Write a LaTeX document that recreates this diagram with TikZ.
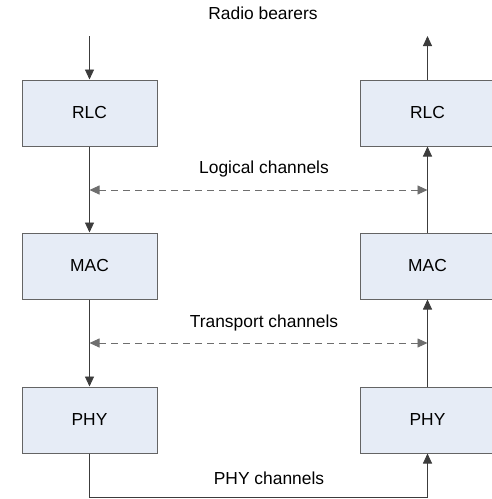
\documentclass[tikz,border=0pt]{standalone}
\usepackage{fontspec}
\setmainfont{Liberation Sans}
\usetikzlibrary{arrows.meta}
\definecolor{boxfill}{RGB}{230,236,246}
\definecolor{boxline}{RGB}{100,100,100}
\definecolor{lineclr}{RGB}{60,60,60}
\definecolor{dashclr}{RGB}{110,110,110}
\begin{document}
\begin{tikzpicture}[x=1pt,y=-1pt,
  layerbox/.style={draw=boxline,fill=boxfill,line width=1pt,minimum width=135pt,minimum height=66pt,inner sep=0pt,font=\fontsize{17.4}{20}\selectfont},
  lbl/.style={font=\fontsize{17.4}{20}\selectfont,inner sep=0pt,anchor=base},
  flow/.style={draw=lineclr,line width=0.9pt,-{Triangle[length=10pt,width=9pt]}},
  dflow/.style={draw=dashclr,line width=0.9pt,dash pattern=on 7pt off 5pt,{Triangle[length=10pt,width=9pt]}-{Triangle[length=10pt,width=9pt]}}
]
\useasboundingbox (0,0) rectangle (492,499);
\node[layerbox] (rlcl) at (89.5,113) {RLC};
\node[layerbox] (macl) at (89.5,266) {MAC};
\node[layerbox] (phyl) at (89.5,420) {PHY};
\node[layerbox] (rlcr) at (427.5,113) {RLC};
\node[layerbox] (macr) at (427.5,266) {MAC};
\node[layerbox] (phyr) at (427.5,420) {PHY};
\coordinate (inl) at (89.5,36);
\coordinate (outr) at (427.5,36);
\coordinate (lgl) at (89.5,190);
\coordinate (lgr) at (427.5,190);
\coordinate (trl) at (89.5,343);
\coordinate (trr) at (427.5,343);
\node[lbl] (rb) at (263,19.5) {Radio bearers};
\node[lbl] (lc) at (264,173) {Logical channels};
\node[lbl] (tc) at (264,327) {Transport channels};
\node[lbl] (pc) at (269,484) {PHY channels};
\draw[flow] (inl) -- (rlcl.north);
\draw[flow] (rlcl.south) -- (macl.north);
\draw[flow] (macl.south) -- (phyl.north);
\draw[flow] (phyl.south) -- (89.5,497) -- (427.5,497) -- (phyr.south);
\draw[flow] (phyr.north) -- (macr.south);
\draw[flow] (macr.north) -- (rlcr.south);
\draw[flow] (rlcr.north) -- (outr);
\draw[dflow] (lgl) -- (lgr);
\draw[dflow] (trl) -- (trr);
\end{tikzpicture}
\end{document}
